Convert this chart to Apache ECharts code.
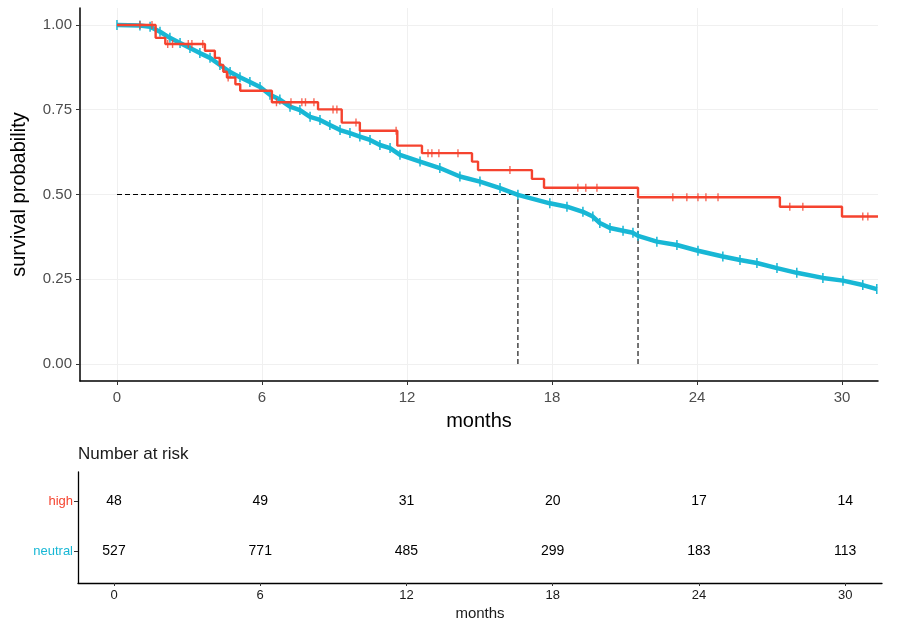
<!DOCTYPE html>
<html>
<head>
<meta charset="utf-8">
<script src="https://cdn.jsdelivr.net/npm/echarts@6/dist/echarts.min.js"></script>
<style>html,body{margin:0;padding:0;background:#fff;}#chart{width:903px;height:630px;}</style>
</head>
<body>
<div id="chart"></div>
<script>
// ---- data ----
const timeTicks = [0, 6, 12, 18, 24, 30];
const survTicks = [0, 0.25, 0.5, 0.75, 1];
const groups = ['neutral', 'high'];

// Kaplan-Meier step curve, group "high": [months, survival]
const highCurve = [
  [0, 1.0], [1.6, 0.962], [2.0, 0.944], [3.64, 0.924], [4.05, 0.903], [4.25, 0.882],
  [4.4, 0.862], [4.55, 0.845], [4.9, 0.825], [5.1, 0.806], [6.41, 0.772], [8.32, 0.751],
  [9.3, 0.712], [10.05, 0.688], [11.6, 0.644], [12.62, 0.622], [14.69, 0.597], [14.94, 0.572],
  [17.17, 0.546], [17.67, 0.520], [21.56, 0.492], [27.43, 0.464], [30.0, 0.435], [31.49, 0.435]
];
const highCensor = [
  [0.95, 1], [1.45, 1], [2.1, 0.944], [2.3, 0.944], [2.95, 0.944], [3.1, 0.944], [3.55, 0.944],
  [4.6, 0.845], [6.6, 0.772], [7.2, 0.772], [7.65, 0.772], [7.8, 0.772], [8.15, 0.772],
  [8.94, 0.751], [9.1, 0.751], [9.89, 0.712], [11.55, 0.688], [12.87, 0.622], [13.03, 0.622],
  [13.32, 0.622], [14.11, 0.622], [16.26, 0.572], [19.07, 0.52], [19.4, 0.52], [19.86, 0.52],
  [23.0, 0.492], [23.58, 0.492], [24.04, 0.492], [24.37, 0.492], [24.87, 0.492],
  [27.84, 0.464], [28.38, 0.464], [30.86, 0.435], [31.07, 0.435]
];

// group "neutral" (dense steps)
const neutralCurve = [
  [0, 1.0], [0.95, 0.9985], [1.37, 0.995], [1.78, 0.980], [2.19, 0.962], [2.61, 0.947],
  [3.02, 0.932], [3.43, 0.917], [3.85, 0.903], [4.26, 0.882], [4.68, 0.861], [5.09, 0.846],
  [5.50, 0.832], [5.92, 0.817], [6.33, 0.794], [6.74, 0.780], [7.16, 0.759], [7.57, 0.749],
  [7.99, 0.729], [8.40, 0.720], [8.81, 0.705], [9.23, 0.690], [9.64, 0.681], [10.05, 0.671],
  [10.47, 0.661], [10.88, 0.646], [11.30, 0.637], [11.71, 0.617], [12.54, 0.597], [13.36, 0.578],
  [14.19, 0.553], [15.02, 0.538], [15.85, 0.519], [16.59, 0.499], [17.91, 0.474], [18.62, 0.464],
  [19.28, 0.449], [19.69, 0.435], [19.98, 0.416], [20.40, 0.401], [20.94, 0.393], [21.35, 0.387],
  [21.56, 0.378], [22.34, 0.361], [23.17, 0.351], [24.04, 0.334], [25.07, 0.317], [25.78, 0.307],
  [26.48, 0.298], [27.31, 0.283], [28.13, 0.269], [29.21, 0.254], [30.04, 0.246], [30.86, 0.233],
  [31.44, 0.221]
];

const medianTimes = [16.59, 21.56]; // neutral, high
const medianLevel = 0.5;

const riskTimes = [0, 6, 12, 18, 24, 30];
const riskHigh = [48, 49, 31, 20, 17, 14];
const riskNeutral = [527, 771, 485, 299, 183, 113];

// ---- chart ----
const RED = '#F5432F';
const TEAL = '#18B7D5';
const FONT = '"Liberation Sans", Arial, sans-serif';

const chart = echarts.init(document.getElementById('chart'), null, {renderer: 'canvas'});

const medianLines = [
  [[0, medianLevel], [Math.max(...medianTimes), medianLevel]],
  [[medianTimes[0], 0], [medianTimes[0], medianLevel]],
  [[medianTimes[1], 0], [medianTimes[1], medianLevel]]
];

const riskData = [];
riskTimes.forEach((t, i) => {
  riskData.push([t, 1, riskHigh[i]]);
  riskData.push([t, 0, riskNeutral[i]]);
});

const dashedSeries = medianLines.map(seg => ({
  type: 'line', xAxisIndex: 0, yAxisIndex: 0, data: seg, symbol: 'none', silent: true,
  lineStyle: {color: '#000', width: 1.1, type: [5, 3]}, z: 1
}));

const option = {
  animation: false,
  backgroundColor: '#fff',
  textStyle: {fontFamily: FONT},
  title: {
    text: 'Number at risk', left: 73, top: 441,
    textStyle: {fontSize: 17, fontWeight: 'normal', color: '#1a1a1a', fontFamily: FONT}
  },
  grid: [
    {left: 80, right: 25, top: 8, bottom: 249},
    {left: 78, right: 21, top: 472, bottom: 47}
  ],
  xAxis: [
    {
      gridIndex: 0, type: 'value', min: -1.53, max: 31.49,
      name: 'months', nameLocation: 'middle', nameGap: 30,
      nameTextStyle: {fontSize: 20, color: '#000', fontFamily: FONT},
      axisLine: {show: true, onZero: false, lineStyle: {color: '#000', width: 1.5}},
      axisTick: {show: true, length: 4, customValues: timeTicks, lineStyle: {color: '#333', width: 1}},
      axisLabel: {customValues: timeTicks, color: '#4d4d4d', fontSize: 15, margin: 9, fontFamily: FONT},
      splitLine: {show: true, lineStyle: {color: '#f0f0f0', width: 1}}
    },
    {
      gridIndex: 1, type: 'value', min: -1.477, max: 31.51,
      name: 'months', nameLocation: 'middle', nameGap: 23,
      nameTextStyle: {fontSize: 15, color: '#1a1a1a', fontFamily: FONT},
      axisLine: {show: true, onZero: false, lineStyle: {color: '#000', width: 1.3}},
      axisTick: {show: true, length: 3, customValues: riskTimes, lineStyle: {color: '#333', width: 1}},
      axisLabel: {customValues: riskTimes, color: '#1a1a1a', fontSize: 13, margin: 6, fontFamily: FONT},
      splitLine: {show: false}
    }
  ],
  yAxis: [
    {
      gridIndex: 0, type: 'value', min: -0.05, max: 1.05,
      name: 'survival probability', nameLocation: 'middle', nameGap: 51,
      nameTextStyle: {fontSize: 20, color: '#000', fontFamily: FONT},
      axisLine: {show: true, onZero: false, lineStyle: {color: '#000', width: 1.5}},
      axisTick: {show: true, length: 4, customValues: survTicks, lineStyle: {color: '#333', width: 1}},
      axisLabel: {customValues: survTicks, color: '#4d4d4d', fontSize: 15, margin: 8, fontFamily: FONT,
        formatter: v => v.toFixed(2)},
      splitLine: {show: true, lineStyle: {color: '#f0f0f0', width: 1}}
    },
    {
      gridIndex: 1, type: 'value', min: -0.64, max: 1.58,
      axisLine: {show: true, onZero: false, lineStyle: {color: '#000', width: 1.3}},
      axisTick: {show: true, length: 4, customValues: [0, 1], lineStyle: {color: '#333', width: 1}},
      axisLabel: {customValues: [0, 1], fontSize: 13, margin: 5, fontFamily: FONT,
        formatter: v => groups[Math.round(v)],
        color: v => (Math.round(v) === 1 ? RED : TEAL)},
      splitLine: {show: false}
    }
  ],
  series: [
    ...dashedSeries,
    {
      name: 'neutral', type: 'line', xAxisIndex: 0, yAxisIndex: 0, data: neutralCurve,
      showSymbol: true, symbol: 'rect', symbolSize: [1.5, 10],
      itemStyle: {color: TEAL}, lineStyle: {color: TEAL, width: 4.5}, z: 2
    },
    {
      name: 'high', type: 'line', xAxisIndex: 0, yAxisIndex: 0, data: highCurve, step: 'end',
      symbol: 'none', lineStyle: {color: RED, width: 2.4}, z: 3
    },
    {
      name: 'high censor', type: 'scatter', xAxisIndex: 0, yAxisIndex: 0, data: highCensor,
      symbol: 'rect', symbolSize: [1.4, 8], itemStyle: {color: RED}, z: 4
    },
    {
      name: 'risk', type: 'scatter', xAxisIndex: 1, yAxisIndex: 1, data: riskData,
      symbolSize: 0, itemStyle: {color: '#000', opacity: 1},
      label: {show: true, position: 'inside', formatter: p => String(p.value[2]),
        color: '#000', fontSize: 14, fontFamily: FONT, opacity: 1}
    }
  ]
};
chart.setOption(option);
</script>
</body>
</html>
